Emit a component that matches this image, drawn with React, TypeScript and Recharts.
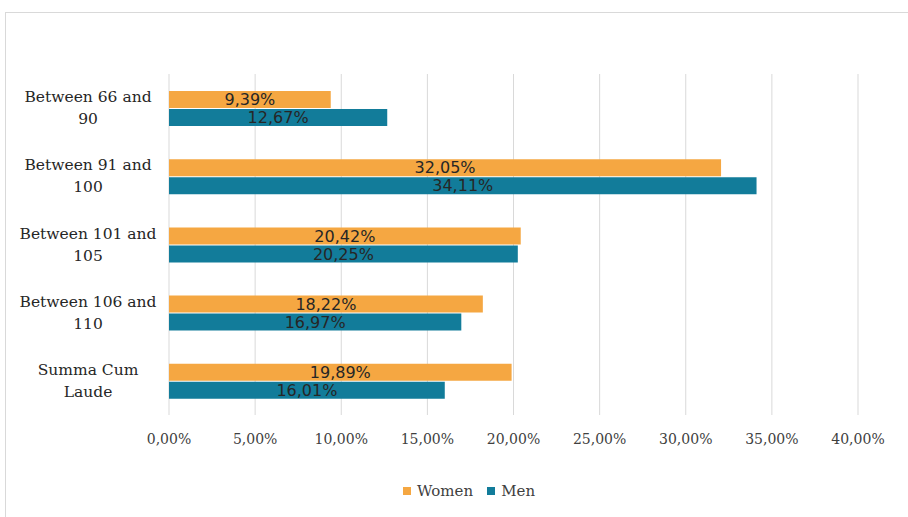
import React from "react";
import { BarChart, Bar, XAxis, YAxis, CartesianGrid, LabelList } from "recharts";

const categories = [
  "Between 66 and 90",
  "Between 91 and 100",
  "Between 101 and 105",
  "Between 106 and 110",
  "Summa Cum Laude",
];
const women = [9.39, 32.05, 20.42, 18.22, 19.89];
const men = [12.67, 34.11, 20.25, 16.97, 16.01];
const xTicks = [0, 5, 10, 15, 20, 25, 30, 35, 40];

const data = categories.map((name, i) => ({ name, women: women[i], men: men[i] }));

const pct = (v: number) => `${v.toFixed(2).replace(".", ",")}%`;

const CategoryTick = ({ y, payload }: any) => {
  const words = String(payload.value).split(" ");
  const lines = [words.slice(0, -1).join(" "), words[words.length - 1]];
  return (
    <text x={88} y={y} textAnchor="middle" fill="#262626" fontSize={15.5} fontFamily="'DejaVu Serif', serif">
      <tspan x={88} dy={-6}>{lines[0]}</tspan>
      <tspan x={88} dy={22}>{lines[1]}</tspan>
    </text>
  );
};

const LegendBox = () => (
  <div style={{ position: "absolute", left: 0, top: 482, width: 908, display: "flex", justifyContent: "center", paddingLeft: 30, boxSizing: "border-box", fontFamily: "'DejaVu Serif', serif", fontSize: 15, color: "#404040" }}>
    <span style={{ display: "flex", alignItems: "center", marginRight: 14 }}>
      <span style={{ width: 8, height: 8, background: "#F5A742", marginRight: 6, display: "inline-block" }} />
      Women
    </span>
    <span style={{ display: "flex", alignItems: "center" }}>
      <span style={{ width: 8, height: 8, background: "#127C9A", marginRight: 6, display: "inline-block" }} />
      Men
    </span>
  </div>
);

export default function App() {
  return (
    <div style={{ position: "absolute", left: 0, top: 0, width: 908, height: 517, background: "#fff", overflow: "hidden" }}>
      <div style={{ position: "absolute", left: 5, top: 12, width: 920, height: 520, borderLeft: "1px solid #d9d9d9", borderTop: "1px solid #d9d9d9" }} />
      <div style={{ position: "absolute", left: 0, top: 0 }}>
        <BarChart
          width={908}
          height={517}
          data={data}
          layout="vertical"
          margin={{ top: 74, right: 50, bottom: 72, left: 0 }}
          barGap={1}
        >
          <CartesianGrid horizontal={false} stroke="#d9d9d9" />
          <XAxis
            type="number"
            domain={[0, 40]}
            ticks={xTicks}
            tickFormatter={pct}
            axisLine={false}
            tickLine={false}
            height={30}
            tick={{ fill: "#404040", fontSize: 14, fontFamily: "'DejaVu Serif', serif" }}
            tickMargin={13}
          />
          <YAxis
            type="category"
            dataKey="name"
            width={169}
            axisLine={false}
            tickLine={false}
            tick={<CategoryTick />}
          />
          <Bar dataKey="women" name="Women" fill="#F5A742" barSize={17} isAnimationActive={false}>
            <LabelList dataKey="women" position="center" formatter={pct} fill="#262626" fontSize={16} fontFamily="'DejaVu Sans', sans-serif" />
          </Bar>
          <Bar dataKey="men" name="Men" fill="#127C9A" barSize={17} isAnimationActive={false}>
            <LabelList dataKey="men" position="center" formatter={pct} fill="#262626" fontSize={16} fontFamily="'DejaVu Sans', sans-serif" />
          </Bar>
        </BarChart>
      </div>
      <LegendBox />
    </div>
  );
}
